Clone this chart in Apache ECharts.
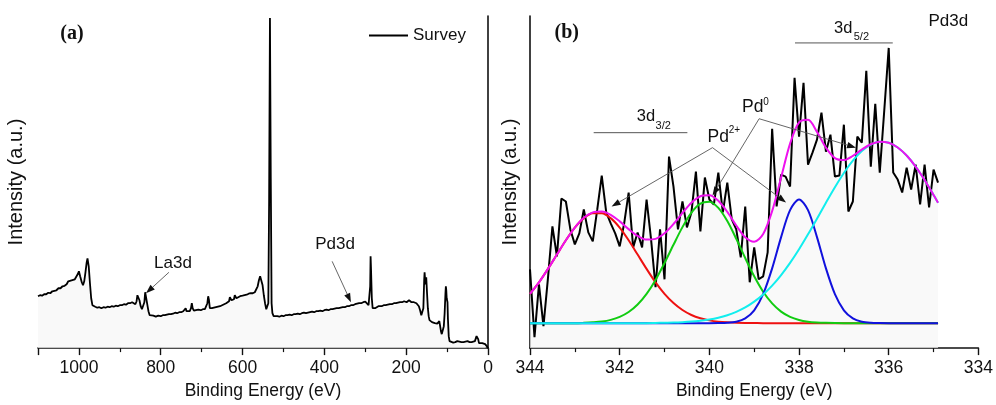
<!DOCTYPE html>
<html><head><meta charset="utf-8">
<script src="https://cdn.jsdelivr.net/npm/echarts@6/dist/echarts.min.js"></script>
<style>html,body{margin:0;padding:0;background:#fff}#c{width:996px;height:405px}</style>
</head><body><div id="c"></div>
<script>
// ---- Panel (a): survey spectrum [binding energy eV, intensity a.u.] ----
const surveyData = [[1100,52],[1095,53],[1090,52.5],[1085,54],[1080,54],[1075,55.5],[1070,55],[1065,57],[1060,57.5],[1055,58],[1050,60],[1045,60],[1040,62],[1035,62.5],[1030,64],[1026,67],[1022,66],[1018,68],[1014,67],[1010,69],[1006,70],[1003,74],[1000,77],[997,72],[993,66],[990,63],[987,67],[984,76],[981,86],[979,90],[976,82],[973,65],[970,50],[967,43],[964,41],[960,41.5],[955,40.5],[950,41],[945,40],[940,41],[935,40.5],[930,41.5],[925,41],[920,42],[915,41.5],[910,42.5],[905,42],[900,43],[895,43],[890,44],[885,43.5],[880,45],[875,45],[870,46],[866,45],[862,44],[859,47],[857,53],[855,55],[852,48],[849,42],[846,39],[843,41],[840,46],[838,56],[836,54],[833,44],[830,37],[827,33],[823,32],[818,32.5],[812,31.5],[806,32.5],[800,32],[795,33],[790,33],[785,33.5],[780,34],[775,34],[770,34.5],[765,35.5],[760,35],[755,36],[750,36],[745,37],[741,37],[739,40],[737,37],[733,37.5],[729,37],[726,40],[724,45],[722,40],[719,37.5],[714,38],[708,38.5],[702,38],[697,39],[692,39],[688,40],[686,45],[684,52],[682,48],[680,40],[675,40],[670,40.5],[665,41],[660,41.5],[655,42],[650,43],[645,44],[640,45],[636,46],[633,47],[631,51],[629,52],[627,48],[624,47.5],[621,49],[619,53],[617,54],[615,50],[611,51],[606,52],[600,52.5],[595,53],[590,53.5],[585,54.5],[580,55],[575,55],[570,56],[566,57.5],[563,62],[560,68],[557,72],[554,70],[551,63],[548,53],[545,45],[542,39],[539,37],[537,45],[535,150],[533,331],[531,170],[529,45],[527,35],[524,32],[520,31.5],[515,32],[510,31.5],[505,32.5],[500,32],[495,33],[490,33],[485,33.5],[480,33],[475,34],[470,34],[465,34.5],[460,34],[455,35],[450,35.5],[445,35],[440,35.5],[435,36],[430,36.5],[425,36],[420,37],[415,37],[410,37.5],[405,37],[400,38],[395,38.5],[390,38],[385,39],[380,39],[375,39.5],[370,40],[365,40],[360,40.5],[355,41],[350,41],[345,42],[340,42],[335,43],[330,43],[325,44],[320,44.5],[315,45],[310,45],[305,46],[300,46.5],[296,45],[292,43],[290,45],[288,62],[287,92],[286,80],[284,50],[282,40],[279,38],[276,40],[272,41],[268,42],[264,41.5],[260,42],[255,43],[250,43],[245,43.5],[240,44],[235,44],[230,45],[225,45],[220,45.5],[215,46],[210,46],[205,47],[202,48],[199,46],[196,47],[193,48],[190,46],[187,46],[184,47.5],[181,46],[178,45],[175,45],[172,44],[169,42],[166,38],[163,33],[161,31],[158,40],[156,68],[155,76],[153,64],[152,66],[151,71],[149,55],[147,40],[145,32],[143,28],[140,26],[137,26],[134,25.5],[130,25],[127,24],[124,24.5],[121,26],[119,27],[117,22],[115,17],[113,14],[111,16],[108,22],[106,35],[104,55],[103,62],[102,58],[101,50],[100,52],[99,46],[98,30],[96,12],[94,7],[90,6],[85,5.5],[80,6],[75,7],[70,6.5],[65,6],[60,6],[55,6.5],[50,7],[45,6],[40,6],[36,6.5],[32,7],[30,9],[28,12],[26,13],[24,9],[22,5],[18,4.5],[14,5],[10,5],[7,4],[4,3],[2,1.5],[0,0]];

// ---- Panel (b): Pd3d high-resolution data ----
const pdEV = [344.0,343.9,343.8,343.7,343.6,343.5,343.4,343.3,343.2,343.1,
343.0,342.9,342.8,342.7,342.6,342.5,342.4,342.3,342.2,342.1,
342.0,341.9,341.8,341.7,341.6,341.5,341.4,341.3,341.2,341.1,
341.0,340.9,340.8,340.7,340.6,340.5,340.4,340.3,340.2,340.1,
340.0,339.9,339.8,339.7,339.6,339.5,339.4,339.3,339.2,339.1,
339.0,338.9,338.8,338.7,338.6,338.5,338.4,338.3,338.2,338.1,
338.0,337.9,337.8,337.7,337.6,337.5,337.4,337.3,337.2,337.1,
337.0,336.9,336.8,336.7,336.6,336.5,336.4,336.3,336.2,336.1,
336.0,335.9,335.8,335.7,335.6,335.5,335.4,335.3,335.2,335.1,
335.0,334.9];
const pdCounts = [79,11,64,22,70,122,92,150,147,119,
104,115,139,116,107,139,173,136,125,115,
102,125,156,101,116,101,149,109,61,119,
69,192,162,119,147,121,136,177,117,171,
149,144,176,136,166,129,119,91,142,66,
101,69,72,96,220,142,174,172,162,271,
212,266,184,196,209,236,197,214,172,173,
224,137,147,212,206,278,182,245,176,238,
301,176,169,156,181,159,184,144,184,141,
179,166];

// fitted components
const fitEV = [344.0,343.8,343.6,343.4,343.2,343.0,342.8,342.6,342.4,342.2,
342.0,341.8,341.6,341.4,341.2,341.0,340.8,340.6,340.4,340.2,
340.0,339.8,339.6,339.4,339.2,339.0,338.8,338.6,338.4,338.2,
338.0,337.8,337.6,337.4,337.2,337.0,336.8,336.6,336.4,336.2,
336.0,335.8,335.6,335.4,335.2,335.0,334.9];
const fitRed = [54.4,65.9,79.4,93.8,108.1,120.8,130.3,135.3,135.3,130.3,
120.8,108.1,93.8,79.4,65.9,54.4,45.2,38.2,33.2,29.9,
27.8,26.5,25.8,25.4,25.2,25.1,25,25,25,25,
25,25,25,25,25,25,25,25,25,25,
25,25,25,25,25,25,25];
const fitGreen = [25,25,25,25,25,25,25.3,25.8,26.6,28.3,
31.3,36.2,43.7,54.4,68.4,85.3,103.6,121.3,135.9,144.9,
146.8,140.6,127.4,109.6,90.3,72.0,56.5,44.8,36.6,31.3,
28.2,26.5,25.7,25.3,25.1,25,25,25,25,25,
25,25,25,25,25,25,25];
const fitBlue = [25,25,25,25,25,25,25,25,25,25,
25,25,25,25,25,25,25,25,25,25,
25,25.1,25.4,26.5,29.8,37.9,54.1,79.9,111.3,138.3,
149,138.3,111.3,79.9,54.1,37.9,29.8,26.5,25.4,25.1,
25,25,25,25,25,25,25];
const fitCyan = [25,25,25,25,25,25,25,25,25,25,
25,25,25,25,25.2,25.4,25.6,26.0,26.6,27.5,
28.7,30.5,33.0,36.4,40.8,46.6,53.8,62.6,73.2,85.4,
99.1,114.1,129.8,145.8,161.3,175.6,187.9,197.6,204.0,206.9,
205.9,201.2,193.1,182.0,168.6,153.6,145.8];
const fitEnvelope = [54.4,65.9,79.4,93.8,108.1,120.8,130.6,136.1,136.9,133.6,
127.1,119.3,112.5,108.8,109.5,115.1,124.4,135.5,145.7,152.3,
153.3,147.7,136.6,122.9,111.1,106.6,114.4,137.3,171.1,205.0,
226.3,228.9,216.8,201.0,190.5,188.5,192.7,199.1,204.4,207.0,
205.9,201.2,193.1,182.0,168.6,153.6,145.8];

const xTicksA = {min: 0, max: 1100, interval: 200};
const xTicksB = {min: 334, max: 344, interval: 2};

const zip = (xs, ys) => xs.map((x, i) => [x, ys[i]]);
const FONT = 'Liberation Sans, Arial, sans-serif';

function xAxisCfg(gi, t) {
  return {
    type: 'value', gridIndex: gi, inverse: true, min: t.min, max: t.max, interval: t.interval,
    name: 'Binding Energy (eV)', nameLocation: 'middle', nameGap: 33,
    nameTextStyle: {fontFamily: FONT, fontSize: 17.5, color: '#111'},
    axisLine: {show: true, onZero: false, lineStyle: {color: '#111', width: 1.6}},
    axisTick: {show: true, inside: false, length: 7, lineStyle: {color: '#111', width: 1.4}},
    minorTick: {show: true, splitNumber: 2, length: 4, lineStyle: {color: '#111', width: 1.2}},
    axisLabel: {fontFamily: FONT, fontSize: 17.5, color: '#111', margin: 11, showMaxLabel: gi === 1,
      formatter: v => String(v)},
    splitLine: {show: false}
  };
}
function yAxisCfg(gi, gap) {
  return {
    type: 'value', gridIndex: gi, min: 0, max: 333,
    name: 'Intensity (a.u.)', nameLocation: 'middle', nameGap: gap, nameRotate: 90,
    nameTextStyle: {fontFamily: FONT, fontSize: 20, color: '#111'},
    axisLine: {show: true, lineStyle: {color: '#111', width: 1.6}},
    axisTick: {show: false}, axisLabel: {show: false}, splitLine: {show: false}
  };
}
function fitLine(name, data, color) {
  return {name, type: 'line', xAxisIndex: 1, yAxisIndex: 1, data, showSymbol: false, smooth: 0.3,
    lineStyle: {color, width: 2}, itemStyle: {color}, silent: true, animation: false};
}

const option = {
  animation: false,
  grid: [
    {left: 38, top: 16, width: 450, height: 333},
    {left: 530, top: 16, width: 450, height: 333}
  ],
  xAxis: [xAxisCfg(0, xTicksA), xAxisCfg(1, xTicksB)],
  yAxis: [yAxisCfg(0, 12), yAxisCfg(1, 10)],
  legend: {data: [{name: 'Survey', icon: 'rect'}], left: 364, top: 22, itemWidth: 39, itemHeight: 2, itemGap: 6,
    textStyle: {fontFamily: FONT, fontSize: 17, color: '#111'}, selectedMode: false},
  series: [
    {name: 'Survey', type: 'line', xAxisIndex: 0, yAxisIndex: 0, data: surveyData, showSymbol: false,
      symbol: 'none', lineStyle: {color: '#000', width: 1.8}, itemStyle: {color: '#000'},
      areaStyle: {color: '#f6f6f6', origin: 'start'}},
    {name: 'Pd3d', type: 'line', xAxisIndex: 1, yAxisIndex: 1, data: zip(pdEV, pdCounts), showSymbol: false,
      lineStyle: {color: '#000', width: 2}, itemStyle: {color: '#000'},
      areaStyle: {color: '#f6f6f6', origin: 'start'}},
    fitLine('Pd2+ 3d3/2', zip(fitEV, fitRed), '#ee1111'),
    fitLine('Pd2+ 3d5/2', zip(fitEV, fitGreen), '#11cc11'),
    fitLine('Pd0 3d5/2', zip(fitEV, fitBlue), '#1111dd'),
    fitLine('Pd0 3d3/2', zip(fitEV, fitCyan), '#11eeee'),
    fitLine('Envelope', zip(fitEV, fitEnvelope), '#ee11ee')
  ]
};

const chart = echarts.init(document.getElementById('c'));
chart.setOption(option);

// ---- annotations (anchored in data coordinates) ----
const annTextsA = [
  {t: '(a)', at: [1017, 315], font: 'bold 20px Liberation Serif, Times New Roman, serif', align: 'center'},
  {t: 'La3d', at: [770, 85], font: '17px ' + FONT, align: 'center'},
  {t: 'Pd3d', at: [374, 104], font: '17px ' + FONT, align: 'center'}
];
const annArrowsA = [[[780, 76], [836, 55]], [[381, 87], [335, 46]]];
const annTextsB = [
  {t: '(b)', at: [343.18, 316], font: 'bold 20px Liberation Serif, Times New Roman, serif', align: 'center'},
  {t: 'Pd3d', at: [334.67, 328], font: '17px ' + FONT, align: 'center'},
  {t: '3d', at: [337.22, 321], font: '16.5px ' + FONT, align: 'left'},
  {t: '5/2', at: [336.78, 312], font: '11px ' + FONT, align: 'left'},
  {t: '3d', at: [341.62, 232], font: '16.5px ' + FONT, align: 'left'},
  {t: '3/2', at: [341.20, 223], font: '11px ' + FONT, align: 'left'},
  {t: 'Pd', at: [340.04, 212], font: '17.5px ' + FONT, align: 'left'},
  {t: '2+', at: [339.57, 218], font: '10px ' + FONT, align: 'left'},
  {t: 'Pd', at: [339.27, 242], font: '17.5px ' + FONT, align: 'left'},
  {t: '0', at: [338.80, 247], font: '10px ' + FONT, align: 'left'}
];
const annBarsB = [[[338.09, 306], [335.91, 306]], [[342.58, 216], [340.49, 216]]];
const annArrowsB = [
  [[339.93, 201], [342.18, 142]], [[339.93, 201], [338.29, 146]],
  [[338.89, 230], [339.93, 153]], [[338.89, 230], [336.73, 201]]
];

const els = [];
const P = (g, p) => chart.convertToPixel({gridIndex: g}, p);
function addText(g, a) {
  const p = P(g, a.at);
  els.push({type: 'text', x: p[0], y: p[1], z: 100,
    style: {text: a.t, font: a.font, fill: '#111', align: a.align, verticalAlign: 'middle'}});
}
function addArrow(g, from, to) {
  const a = P(g, from), b = P(g, to);
  const dx = b[0] - a[0], dy = b[1] - a[1], L = Math.hypot(dx, dy);
  const ux = dx / L, uy = dy / L, hl = 9, hw = 3.2;
  const bx = b[0] - ux * hl, by = b[1] - uy * hl;
  els.push({type: 'line', z: 100, shape: {x1: a[0], y1: a[1], x2: bx, y2: by}, style: {stroke: '#555', lineWidth: 0.9}});
  els.push({type: 'polygon', z: 100, shape: {points: [[b[0], b[1]], [bx - uy * hw, by + ux * hw], [bx + uy * hw, by - ux * hw]]}, style: {fill: '#111'}});
}
function addBar(g, from, to) {
  const a = P(g, from), b = P(g, to);
  els.push({type: 'line', z: 100, shape: {x1: a[0], y1: a[1], x2: b[0], y2: b[1]}, style: {stroke: '#555', lineWidth: 1}});
}
annTextsA.forEach(a => addText(0, a));
annArrowsA.forEach(a => addArrow(0, a[0], a[1]));
annTextsB.forEach(a => addText(1, a));
annBarsB.forEach(a => addBar(1, a[0], a[1]));
annArrowsB.forEach(a => addArrow(1, a[0], a[1]));
chart.setOption({graphic: {elements: els}});
</script>
</body></html>
